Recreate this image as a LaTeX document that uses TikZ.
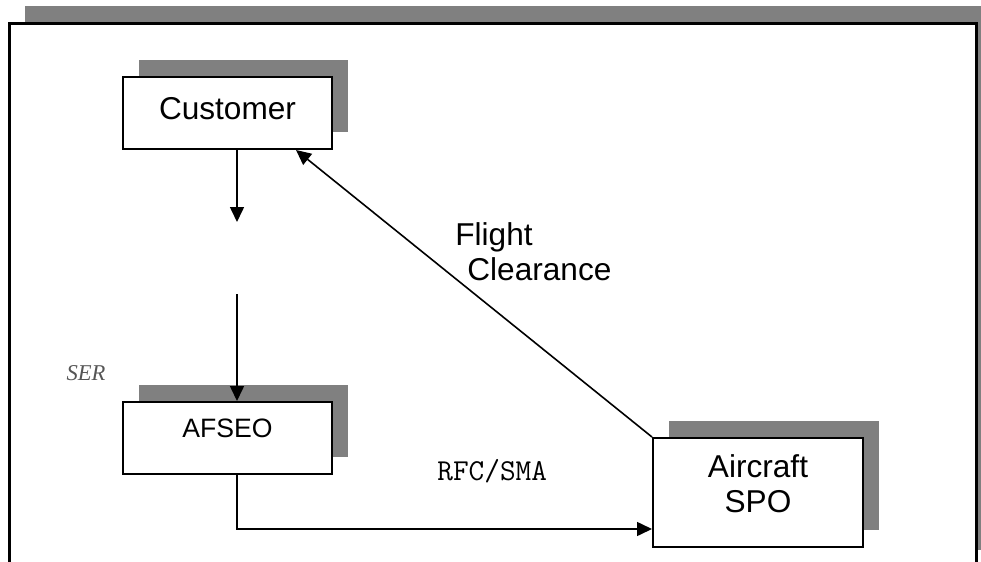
\documentclass[tikz,border=0pt]{standalone}
\usepackage{fontspec}
\setmainfont{Liberation Sans}
\newfontfamily\serfont{Liberation Serif}
\usetikzlibrary{arrows.meta,shadows}
\definecolor{shadowgray}{HTML}{808080}
\definecolor{notegray}{HTML}{555555}

\begin{document}
\begin{tikzpicture}[x=0.5pt,y=-0.5pt,
  box/.style={draw,line width=1pt,fill=white,inner sep=0pt,
    drop shadow={shadow xshift=8pt,shadow yshift=8.5pt,fill=shadowgray,opacity=1}},
  big/.style={font=\fontsize{15.8pt}{17.5pt}\selectfont},
  arr/.style={line width=0.8pt,-{Triangle[length=7.5pt,width=7pt]}}]
\useasboundingbox (0,0) rectangle (981,562);

% Outer frame with its shadow
\fill[shadowgray] (25,6) rectangle (981,23);
\fill[shadowgray] (976,23) rectangle (981,550);
\draw[line width=1.5pt] (9,562) -- (9,23) -- (976,23) -- (976,562);

% Boxes
\node[box,big,minimum width=104.5pt,minimum height=36pt,text depth=5pt]
  (customer) at (227.5,113) {Customer};
\node[box,minimum width=104.5pt,minimum height=36pt,text depth=10pt,
  font=\fontsize{13.3pt}{15pt}\selectfont]
  (afseo) at (227.5,438) {AFSEO};
\node[box,big,align=center,minimum width=105pt,minimum height=54.5pt,text depth=9pt]
  (spo) at (758,492.5) {Aircraft\\SPO};

% Labels
\node[font=\serfont\itshape\fontsize{11.3pt}{13pt}\selectfont,text=notegray]
  (ser) at (86,373) {SER};
\node[anchor=base west,inner sep=0pt,font=\ttfamily\fontsize{15.2pt}{17pt}\selectfont]
  (rfc) at (437,480) {RFC/SMA};
\node[big,align=left,anchor=north west,inner sep=0pt]
  (flight) at (455,222) {Flight\\\hspace*{6pt}Clearance};

% Connectors
\coordinate (gaptop) at (237,222);
\coordinate (gapbot) at (237,294);
\draw[arr] (customer.south -| gaptop) -- (gaptop);
\draw[arr] (gapbot) -- (gapbot |- afseo.north);
\draw[arr] (afseo.south -| gaptop) |- ([yshift=9.5pt]spo.south west);
\draw[arr] (spo.north west) -- ([xshift=-18.5pt]customer.south east);
\end{tikzpicture}
\end{document}
